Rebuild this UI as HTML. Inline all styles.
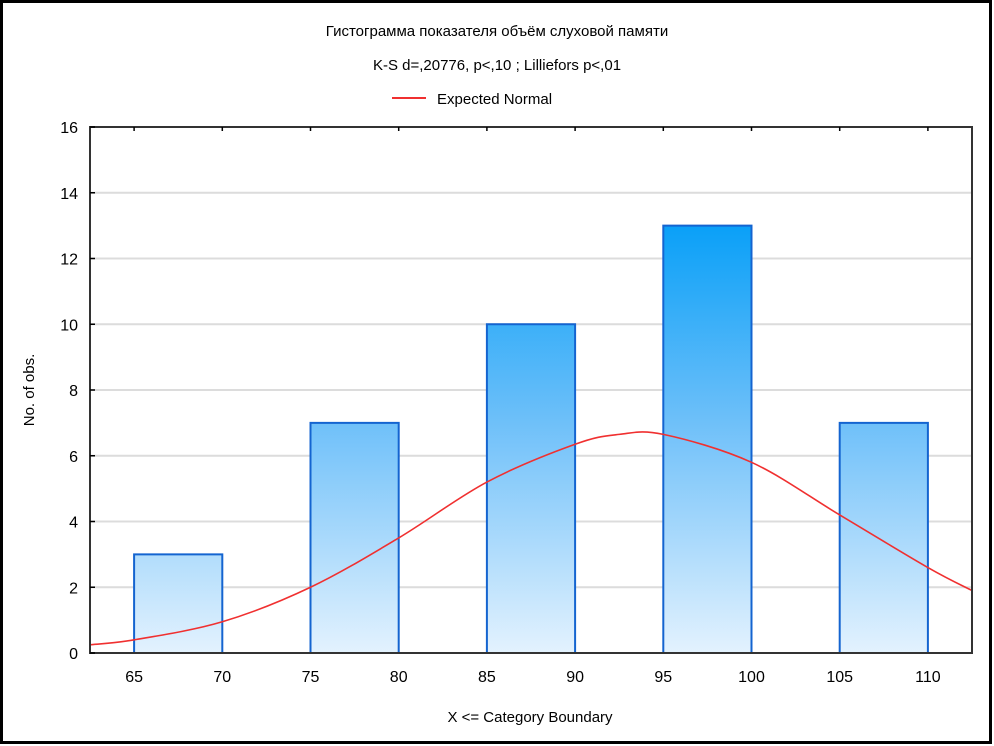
<!DOCTYPE html>
<html><head><meta charset="utf-8">
<style>
html,body{margin:0;padding:0;background:#fff;}
svg{display:block;font-family:"Liberation Sans",sans-serif;}
</style></head>
<body>
<svg id="chart" width="994" height="746" xmlns="http://www.w3.org/2000/svg">
<defs>
<linearGradient id="barGrad" gradientUnits="userSpaceOnUse" x1="0" y1="226" x2="0" y2="653">
<stop offset="0" stop-color="#0aa0f8"/>
<stop offset="0.45" stop-color="#6cbff9"/>
<stop offset="1" stop-color="#e3f2fe"/>
</linearGradient>
</defs>
<rect x="1.5" y="1.5" width="989" height="741" fill="#fff" stroke="#000" stroke-width="3"/>
<text x="497" y="36" text-anchor="middle" font-size="15" fill="#000">Гистограмма показателя объём слуховой памяти</text>
<text x="497" y="70" text-anchor="middle" font-size="15" fill="#000">K-S d=,20776, p&lt;,10 ; Lilliefors p&lt;,01</text>
<g>
<line x1="392" y1="98" x2="426" y2="98" stroke="#f03030" stroke-width="2"/>
<text x="437" y="104" font-size="15" fill="#000">Expected Normal</text>
</g>
<g id="grid"></g>
<g id="bars"></g>
<path id="curve" fill="none" stroke="#f03030" stroke-width="1.6"/>
<rect x="90" y="127" width="882" height="526" fill="none" stroke="#333" stroke-width="2"/>
<g id="yticks"></g>
<g id="xticks"></g>
<text x="530" y="722" text-anchor="middle" font-size="15" fill="#000">X &lt;= Category Boundary</text>
<text transform="translate(34,390) rotate(-90)" text-anchor="middle" font-size="15" fill="#000">No. of obs.</text>
</svg>
<script>
const binStarts = [65, 75, 85, 95, 105];
const binEnds = [70, 80, 90, 100, 110];
const counts = [3, 7, 10, 13, 7];
const yTickLabels = [0, 2, 4, 6, 8, 10, 12, 14, 16];
const xTickLabels = [65, 70, 75, 80, 85, 90, 95, 100, 105, 110];
const curveX = [62.5, 65, 70, 75, 80, 85, 90, 92.5, 95, 100, 105, 110, 112.5];
const curveY = [0.25, 0.4, 0.95, 2.0, 3.5, 5.2, 6.35, 6.65, 6.65, 5.8, 4.2, 2.6, 1.9];

const NS = "http://www.w3.org/2000/svg";
const X0 = 90, X1 = 972, Y0 = 653, Y1 = 127;
const xMin = 62.5, xMax = 112.5, yMin = 0, yMax = 16;
function sx(v){return X0 + (v - xMin) / (xMax - xMin) * (X1 - X0);}
function sy(v){return Y0 - (v - yMin) / (yMax - yMin) * (Y0 - Y1);}
function mk(tag, attrs){const e=document.createElementNS(NS,tag);for(const k in attrs)e.setAttribute(k,attrs[k]);return e;}

const grid=document.getElementById('grid'), yt=document.getElementById('yticks'), xt=document.getElementById('xticks'), bars=document.getElementById('bars');
yTickLabels.forEach(v=>{
  const y=sy(v);
  if(v>0 && v<16){
    const g=mk('line',{x1:X0,x2:X1,y1:y,y2:y,stroke:'#dcdcdc','stroke-width':2});
    
    
    grid.appendChild(g);
  }
  const tk=mk('line',{x1:X0,x2:X0+5,y1:y,y2:y,stroke:'#000','stroke-width':1.5});
  
  
  yt.appendChild(tk);
  const t=mk('text',{x:78,y:y+6,'text-anchor':'end','font-size':16,fill:'#000'});
  t.textContent=v;
  
  
  yt.appendChild(t);
});
xTickLabels.forEach(v=>{
  const x=sx(v);
  const tk=mk('line',{x1:x,x2:x,y1:Y1,y2:Y1+4,stroke:'#000','stroke-width':1.5});
  
  
  xt.appendChild(tk);
  const t=mk('text',{x:x,y:682,'text-anchor':'middle','font-size':16,fill:'#000'});
  t.textContent=v;
  
  
  xt.appendChild(t);
});
counts.forEach((c,i)=>{
  const x=sx(binStarts[i]), w=sx(binEnds[i])-x, y=sy(c), h=sy(0)-y;
  const r=mk('rect',{x:x,y:y,width:w,height:h,fill:'url(#barGrad)',stroke:'#1464d0','stroke-width':2});
  
  
  bars.appendChild(r);
});
const pts=curveX.map((v,i)=>[sx(v),sy(curveY[i])]);
let d='M'+pts[0][0]+','+pts[0][1];
for(let i=0;i<pts.length-1;i++){
  const p0=pts[Math.max(0,i-1)],p1=pts[i],p2=pts[i+1],p3=pts[Math.min(pts.length-1,i+2)];
  const c1=[p1[0]+(p2[0]-p0[0])/6,p1[1]+(p2[1]-p0[1])/6];
  const c2=[p2[0]-(p3[0]-p1[0])/6,p2[1]-(p3[1]-p1[1])/6];
  d+=' C'+c1[0]+','+c1[1]+' '+c2[0]+','+c2[1]+' '+p2[0]+','+p2[1];
}
document.getElementById('curve').setAttribute('d',d);
</script>
</body></html>
